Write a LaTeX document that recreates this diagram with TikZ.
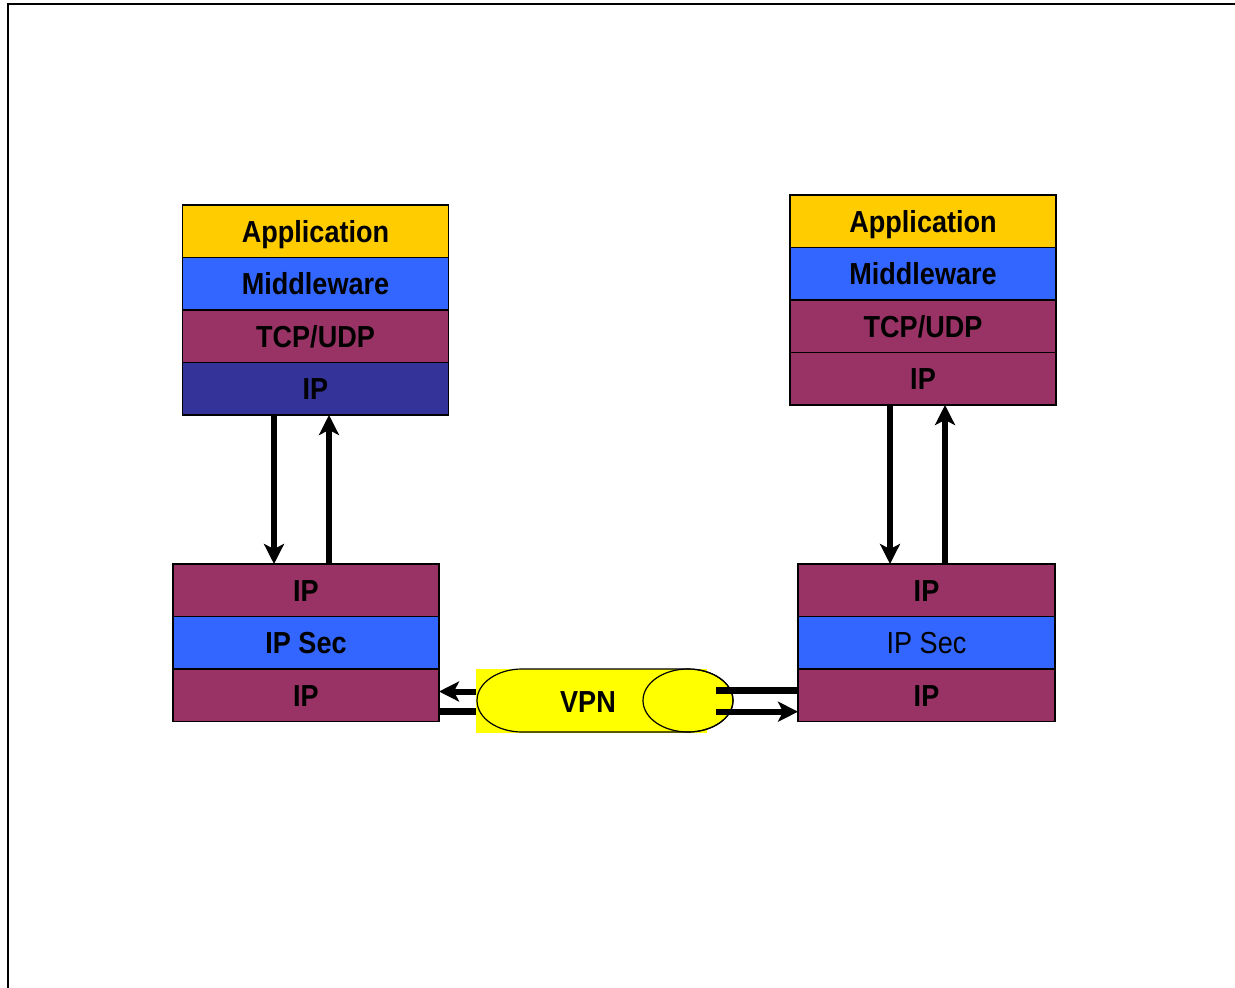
\documentclass[tikz,border=0pt]{standalone}
\usepackage{fontspec}
\setmainfont{Liberation Sans}[FakeStretch=0.89]
\usepackage{tikz}
\usetikzlibrary{positioning,calc,arrows.meta}
\definecolor{appcol}{HTML}{FFCC00}
\definecolor{midcol}{HTML}{3366FF}
\definecolor{tcpcol}{HTML}{993366}
\definecolor{ipcol}{HTML}{333399}
\definecolor{vpncol}{HTML}{FFFF00}

\begin{document}
\begin{tikzpicture}[x = .5pt, y = .5pt,
		layer/.style = {draw, line width=.8pt, outer sep=0pt, inner sep=0pt,
			minimum width=133pt, minimum height=26.25pt,
			text height=10.9pt, text depth=0pt,
			font=\fontsize{15.2pt}{18pt}\selectfont\bfseries},
		arr/.style = {line width=3pt, -{Stealth[length=10pt, width=10pt, inset=2.5pt]}},
		bar/.style = {line width=3.3pt}]
			\useasboundingbox (0,0) rectangle (1235,987);
			% frame
			\draw[line width=1pt] (8,-10) -- (8,983) -- (1245,983);
			
			% left host
			\node[layer, fill=appcol] (lapp) at (315.5,755.75) {Application};
			\node[layer, fill=midcol, below=0pt of lapp] (lmid) {Middleware};
			\node[layer, fill=tcpcol, below=0pt of lmid] (ltcp) {TCP/UDP};
			\node[layer, fill=ipcol, below=0pt of ltcp] (lip) {IP};
			
			% right host
			\node[layer, fill=appcol] (rapp) at (923,765.75) {Application};
			\node[layer, fill=midcol, below=0pt of rapp] (rmid) {Middleware};
			\node[layer, fill=tcpcol, below=0pt of rmid] (rtcp) {TCP/UDP};
			\node[layer, fill=tcpcol, below=0pt of rtcp] (rip) {IP};
			
			% left gateway
			\node[layer, fill=tcpcol] (lip1) at (306,396.75) {IP};
			\node[layer, fill=midcol, below=0pt of lip1] (lsec) {IP Sec};
			\node[layer, fill=tcpcol, below=0pt of lsec] (lip2) {IP};
			
			% right gateway
			\node[layer, fill=tcpcol, minimum width=128.5pt] (rip1) at (926.5,396.75) {IP};
			\node[layer, fill=midcol, minimum width=128.5pt, below=0pt of rip1] (rsec) {\mdseries IP Sec};
			\node[layer, fill=tcpcol, minimum width=128.5pt, below=0pt of rsec] (rip2) {IP};
			
			% tunnel
			\fill[vpncol] (476,318) rectangle (707,254.5);
			\draw[fill=vpncol, line width=.6pt] (522,318) -- (688,318)
				arc[start angle=90, end angle=-90, x radius=45, y radius=31.5] -- (522,255)
				arc[start angle=270, end angle=90, x radius=45, y radius=31.5] -- cycle;
			\draw[line width=.6pt] (688,286.5) ellipse[x radius=45, y radius=31.5];
			\node[text height=10.9pt, text depth=0pt, font=\fontsize{15.2pt}{18pt}\selectfont\bfseries] (vpn) at (588,285.5) {VPN};
			
			\coordinate (vl1) at (476,295.5);
			\coordinate (vl2) at (476,275.3);
			\coordinate (vr1) at (716,296.3);
			\coordinate (vr2) at (716,275.3);
			
			\path ($(lip.south)+(-41.5,0)$) coordinate (ld)
				($(lip.south)+(13.5,0)$) coordinate (lu)
				($(rip.south)+(-33,0)$) coordinate (rd)
				($(rip.south)+(22,0)$) coordinate (ru);
			
			% connectors
			\draw[arr] (ld) -- (ld |- lip1.north);
			\draw[arr] (lu |- lip1.north) -- (lu);
			\draw[arr] (rd) -- (rd |- rip1.north);
			\draw[arr] (ru |- rip1.north) -- (ru);
			
			\draw[arr] (vl1) -- (vl1 -| lip2.east);
			\draw[bar] (vl2) -- (vl2 -| lip2.east);
			\draw[bar] (vr1) -- (vr1 -| rip2.west);
			\draw[arr] (vr2) -- (vr2 -| rip2.west);
		\end{tikzpicture}
\end{document}
